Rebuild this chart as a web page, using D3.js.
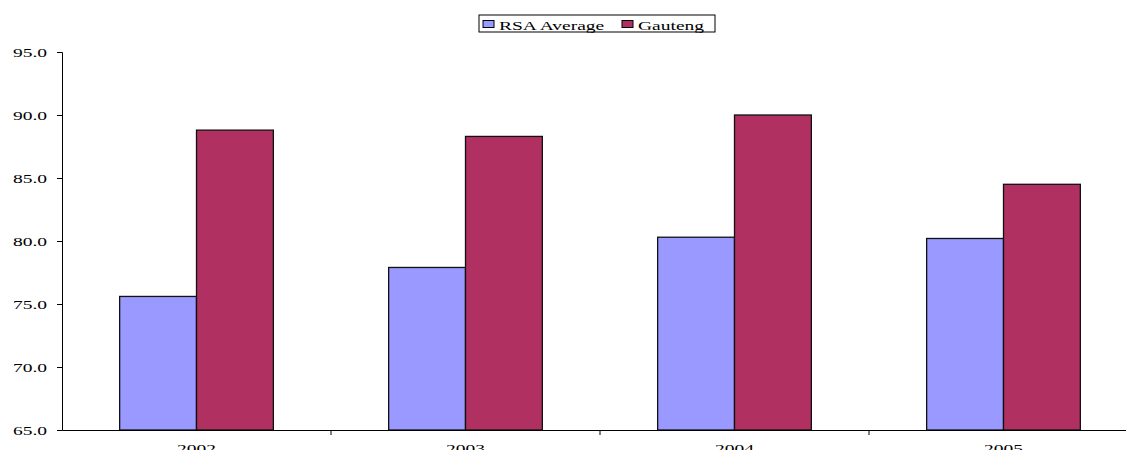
<!DOCTYPE html>
<html>
<head>
<meta charset="utf-8">
<script src="https://cdn.jsdelivr.net/npm/d3@7"></script>
<style>
  body { margin: 0; background: #fff; }
  svg text { font-family: "Liberation Serif", "Times New Roman", Times, serif !important; }
</style>
</head>
<body>
<div id="chart"></div>
<script>
var
  width = 1126,
  height = 450;

var years = ["2002", "2003", "2004", "2005"];
var seriesNames = ["RSA Average", "Gauteng"];
var rsaAverage = [75.6, 77.9, 80.3, 80.2];
var gauteng = [88.8, 88.3, 90.0, 84.5];
var yTicks = [65, 70, 75, 80, 85, 90, 95];
var colors = ["#9999ff", "#b03062"];

var margin = { left: 62, top: 52, right: -12, bottom: 20 };
var stretch = 1.5; // the original text is drawn wide
var serif = "Liberation Serif, Times New Roman, serif";

var svg = d3.select("#chart")
  .append("svg")
  .attr("width", width)
  .attr("height", height)
  .attr("font-family", serif);

var x = d3.scaleBand()
  .domain(years)
  .range([margin.left, width - margin.right]);

var x1 = d3.scaleBand()
  .domain(seriesNames)
  .range([0, x.bandwidth()])
  .paddingInner(0)
  .paddingOuter(0.75);

var y = d3.scaleLinear()
  .domain([65, 95])
  .range([height - margin.bottom, margin.top]);

// y axis
var yAxis = d3.axisLeft(y)
  .tickValues(yTicks)
  .tickSize(5)
  .tickFormat(d3.format(".1f"));

var gy = svg.append("g")
  .attr("transform", "translate(" + margin.left + ",0)")
  .call(yAxis)
  .attr("font-family", serif);
gy.selectAll("text")
  .attr("x", 0)
  .attr("dy", "0.35em")
  .attr("font-size", 13)
  .attr("fill", "#000")
  .attr("transform", "translate(-15,0) scale(" + stretch + ",1)");
gy.selectAll("line, path").attr("stroke", "#000");

// bars
var data = years.map(function(yr, i) {
  return { year: yr, values: [rsaAverage[i], gauteng[i]] };
});

var groups = svg.selectAll(".year")
  .data(data)
  .enter().append("g")
  .attr("transform", function(d) { return "translate(" + x(d.year) + ",0)"; });

groups.selectAll("rect")
  .data(function(d) { return d.values.map(function(v, j) { return { name: seriesNames[j], value: v, j: j }; }); })
  .enter().append("rect")
  .attr("x", function(d) { return x1(d.name); })
  .attr("width", x1.bandwidth())
  .attr("y", function(d) { return y(d.value); })
  .attr("height", function(d) { return y(65) - y(d.value); })
  .attr("fill", function(d) { return colors[d.j]; })
  .attr("stroke", "#111")
  .attr("stroke-width", 1.3);

// x axis
var xAxis = d3.axisBottom(x).tickSize(0);
var gx = svg.append("g")
  .attr("transform", "translate(0," + y(65) + ")")
  .call(xAxis)
  .attr("font-family", serif);
gx.select(".domain").attr("stroke", "#000");
gx.selectAll("text")
  .attr("y", 0)
  .attr("dy", 0)
  .attr("font-size", 13)
  .attr("fill", "#000")
  .attr("transform", "translate(0,23) scale(" + stretch + ",1)");

// boundary ticks between categories
gx.selectAll(".sep")
  .data(years.slice(1))
  .enter().append("line")
  .attr("x1", function(d) { return x(d); })
  .attr("x2", function(d) { return x(d); })
  .attr("y1", 0)
  .attr("y2", 5)
  .attr("stroke", "#000");

// legend
var legend = svg.append("g").attr("transform", "translate(479,15)");
legend.append("rect")
  .attr("width", 236).attr("height", 17)
  .attr("fill", "#fff").attr("stroke", "#000");

var legX = [4, 143];
seriesNames.forEach(function(name, i) {
  legend.append("rect")
    .attr("x", legX[i]).attr("y", 5.5)
    .attr("width", 11).attr("height", 7)
    .attr("fill", colors[i]).attr("stroke", "#000");
  legend.append("text")
    .attr("transform", "translate(" + (legX[i] + 16) + ",14.5) scale(" + stretch + ",1)")
    .attr("font-size", 13)
    .attr("fill", "#000")
    .text(name);
});
</script>
</body>
</html>
